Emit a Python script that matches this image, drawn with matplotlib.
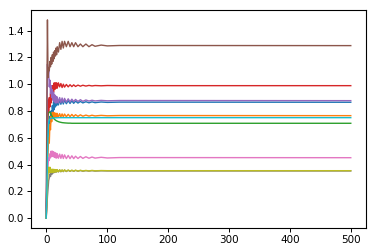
import matplotlib
matplotlib.use("Agg")
import matplotlib.pyplot as plt

steps = [0, 1, 2, 3, 4, 5, 6, 7, 8, 9, 10, 11, 12, 13, 14, 15, 16, 17, 18,
         20, 22, 24, 26, 28, 30, 33, 36, 39, 42, 45, 48, 52, 56, 60, 65, 70,
         75, 80, 90, 100, 120, 499]

blue = [0.0, 0.25, 0.5, 0.62, 0.70, 0.68, 0.76, 0.72, 0.80, 0.76, 0.84, 0.79,
        0.87, 0.81, 0.88, 0.83, 0.89, 0.84, 0.89, 0.845, 0.885, 0.85, 0.882,
        0.852, 0.88, 0.854, 0.877, 0.856, 0.875, 0.857, 0.873, 0.859, 0.871,
        0.86, 0.869, 0.861, 0.868, 0.862, 0.867, 0.864, 0.866, 0.865]
orange = [0.0, 0.15, 0.35, 0.50, 0.60, 0.56, 0.70, 0.66, 0.76, 0.72, 0.79,
          0.75, 0.79, 0.75, 0.785, 0.752, 0.783, 0.753, 0.782, 0.754, 0.78,
          0.755, 0.778, 0.756, 0.777, 0.757, 0.775, 0.758, 0.774, 0.759, 0.772,
          0.76, 0.771, 0.761, 0.769, 0.762, 0.768, 0.763, 0.767, 0.764, 0.766,
          0.765]
green = [0.0, 0.3, 0.6, 0.76, 0.79, 0.795, 0.79, 0.785, 0.775, 0.765, 0.757,
         0.75, 0.745, 0.74, 0.736, 0.732, 0.729, 0.726, 0.724, 0.72, 0.717,
         0.715, 0.713, 0.712, 0.711, 0.71, 0.709, 0.709, 0.708, 0.708, 0.708,
         0.708, 0.708, 0.708, 0.708, 0.708, 0.708, 0.708, 0.708, 0.708, 0.708,
         0.708]
red = [0.0, 0.35, 0.70, 0.88, 0.80, 0.90, 0.83, 0.93, 0.86, 0.96, 0.90, 0.99,
       0.94, 1.01, 0.96, 1.01, 0.97, 1.01, 0.97, 1.01, 0.98, 1.005, 0.975, 1.0,
       0.978, 0.998, 0.98, 0.996, 0.982, 0.995, 0.983, 0.993, 0.985, 0.992,
       0.986, 0.991, 0.987, 0.99, 0.988, 0.99, 0.989, 0.989]
purple = [0.0, 0.6, 1.15, 1.05, 1.10, 0.98, 1.03, 0.93, 0.99, 0.90, 0.96, 0.88,
          0.94, 0.87, 0.92, 0.86, 0.91, 0.86, 0.905, 0.86, 0.90, 0.862, 0.897,
          0.864, 0.894, 0.866, 0.891, 0.868, 0.888, 0.87, 0.886, 0.871, 0.884,
          0.872, 0.882, 0.874, 0.88, 0.875, 0.879, 0.876, 0.878, 0.877]
brown = [0.0, 0.85, 1.48, 1.05, 1.12, 1.10, 1.17, 1.13, 1.20, 1.15, 1.22, 1.17,
         1.24, 1.19, 1.25, 1.21, 1.27, 1.22, 1.28, 1.24, 1.31, 1.26, 1.32, 1.27,
         1.32, 1.28, 1.32, 1.28, 1.31, 1.28, 1.31, 1.28, 1.30, 1.28, 1.30, 1.28,
         1.295, 1.283, 1.292, 1.286, 1.289, 1.288]
pink = [0.0, 0.15, 0.30, 0.40, 0.45, 0.43, 0.48, 0.45, 0.50, 0.46, 0.50, 0.46,
        0.495, 0.455, 0.49, 0.45, 0.485, 0.448, 0.482, 0.447, 0.478, 0.446,
        0.475, 0.445, 0.472, 0.444, 0.468, 0.444, 0.465, 0.444, 0.462, 0.445,
        0.46, 0.446, 0.458, 0.447, 0.456, 0.448, 0.454, 0.449, 0.452, 0.451]
gray = [0.0, 0.08, 0.16, 0.22, 0.28, 0.30, 0.33, 0.31, 0.345, 0.325, 0.355,
        0.335, 0.36, 0.34, 0.36, 0.343, 0.36, 0.344, 0.36, 0.345, 0.359, 0.346,
        0.358, 0.347, 0.358, 0.348, 0.357, 0.349, 0.356, 0.349, 0.356, 0.35,
        0.355, 0.35, 0.354, 0.351, 0.354, 0.351, 0.353, 0.352, 0.352, 0.352]
olive = [0.0, 0.12, 0.25, 0.33, 0.38, 0.34, 0.38, 0.34, 0.365, 0.34, 0.365,
         0.342, 0.364, 0.343, 0.363, 0.344, 0.362, 0.345, 0.362, 0.346, 0.361,
         0.347, 0.36, 0.348, 0.36, 0.349, 0.359, 0.35, 0.358, 0.35, 0.358,
         0.351, 0.357, 0.352, 0.356, 0.352, 0.356, 0.353, 0.355, 0.354, 0.354,
         0.354]
cyan = [0.0, 0.2, 0.45, 0.65, 0.72, 0.735, 0.74, 0.743, 0.745, 0.746, 0.747,
        0.748, 0.748, 0.748, 0.749, 0.749, 0.749, 0.749, 0.749, 0.75, 0.75,
        0.75, 0.75, 0.75, 0.75, 0.75, 0.75, 0.75, 0.75, 0.75, 0.75, 0.75, 0.75,
        0.75, 0.75, 0.75, 0.75, 0.75, 0.75, 0.75, 0.75, 0.75]

series = [blue, orange, green, red, purple, brown, pink, gray, olive, cyan]

fig = plt.figure(figsize=(3.75, 2.52), dpi=100)
ax = fig.add_axes([31 / 375, 1 - 228 / 252, (366 - 31) / 375, (228 - 10) / 252])
for s in series:
    ax.plot(steps, s, lw=1.0)

ax.set_xticks([0, 100, 200, 300, 400, 500])
ax.set_yticks([0.0, 0.2, 0.4, 0.6, 0.8, 1.0, 1.2, 1.4])
ax.tick_params(labelsize=7.5, length=3, width=0.7, pad=2)
for sp in ax.spines.values():
    sp.set_linewidth(0.8)

fig.savefig("out.png", dpi=100)
